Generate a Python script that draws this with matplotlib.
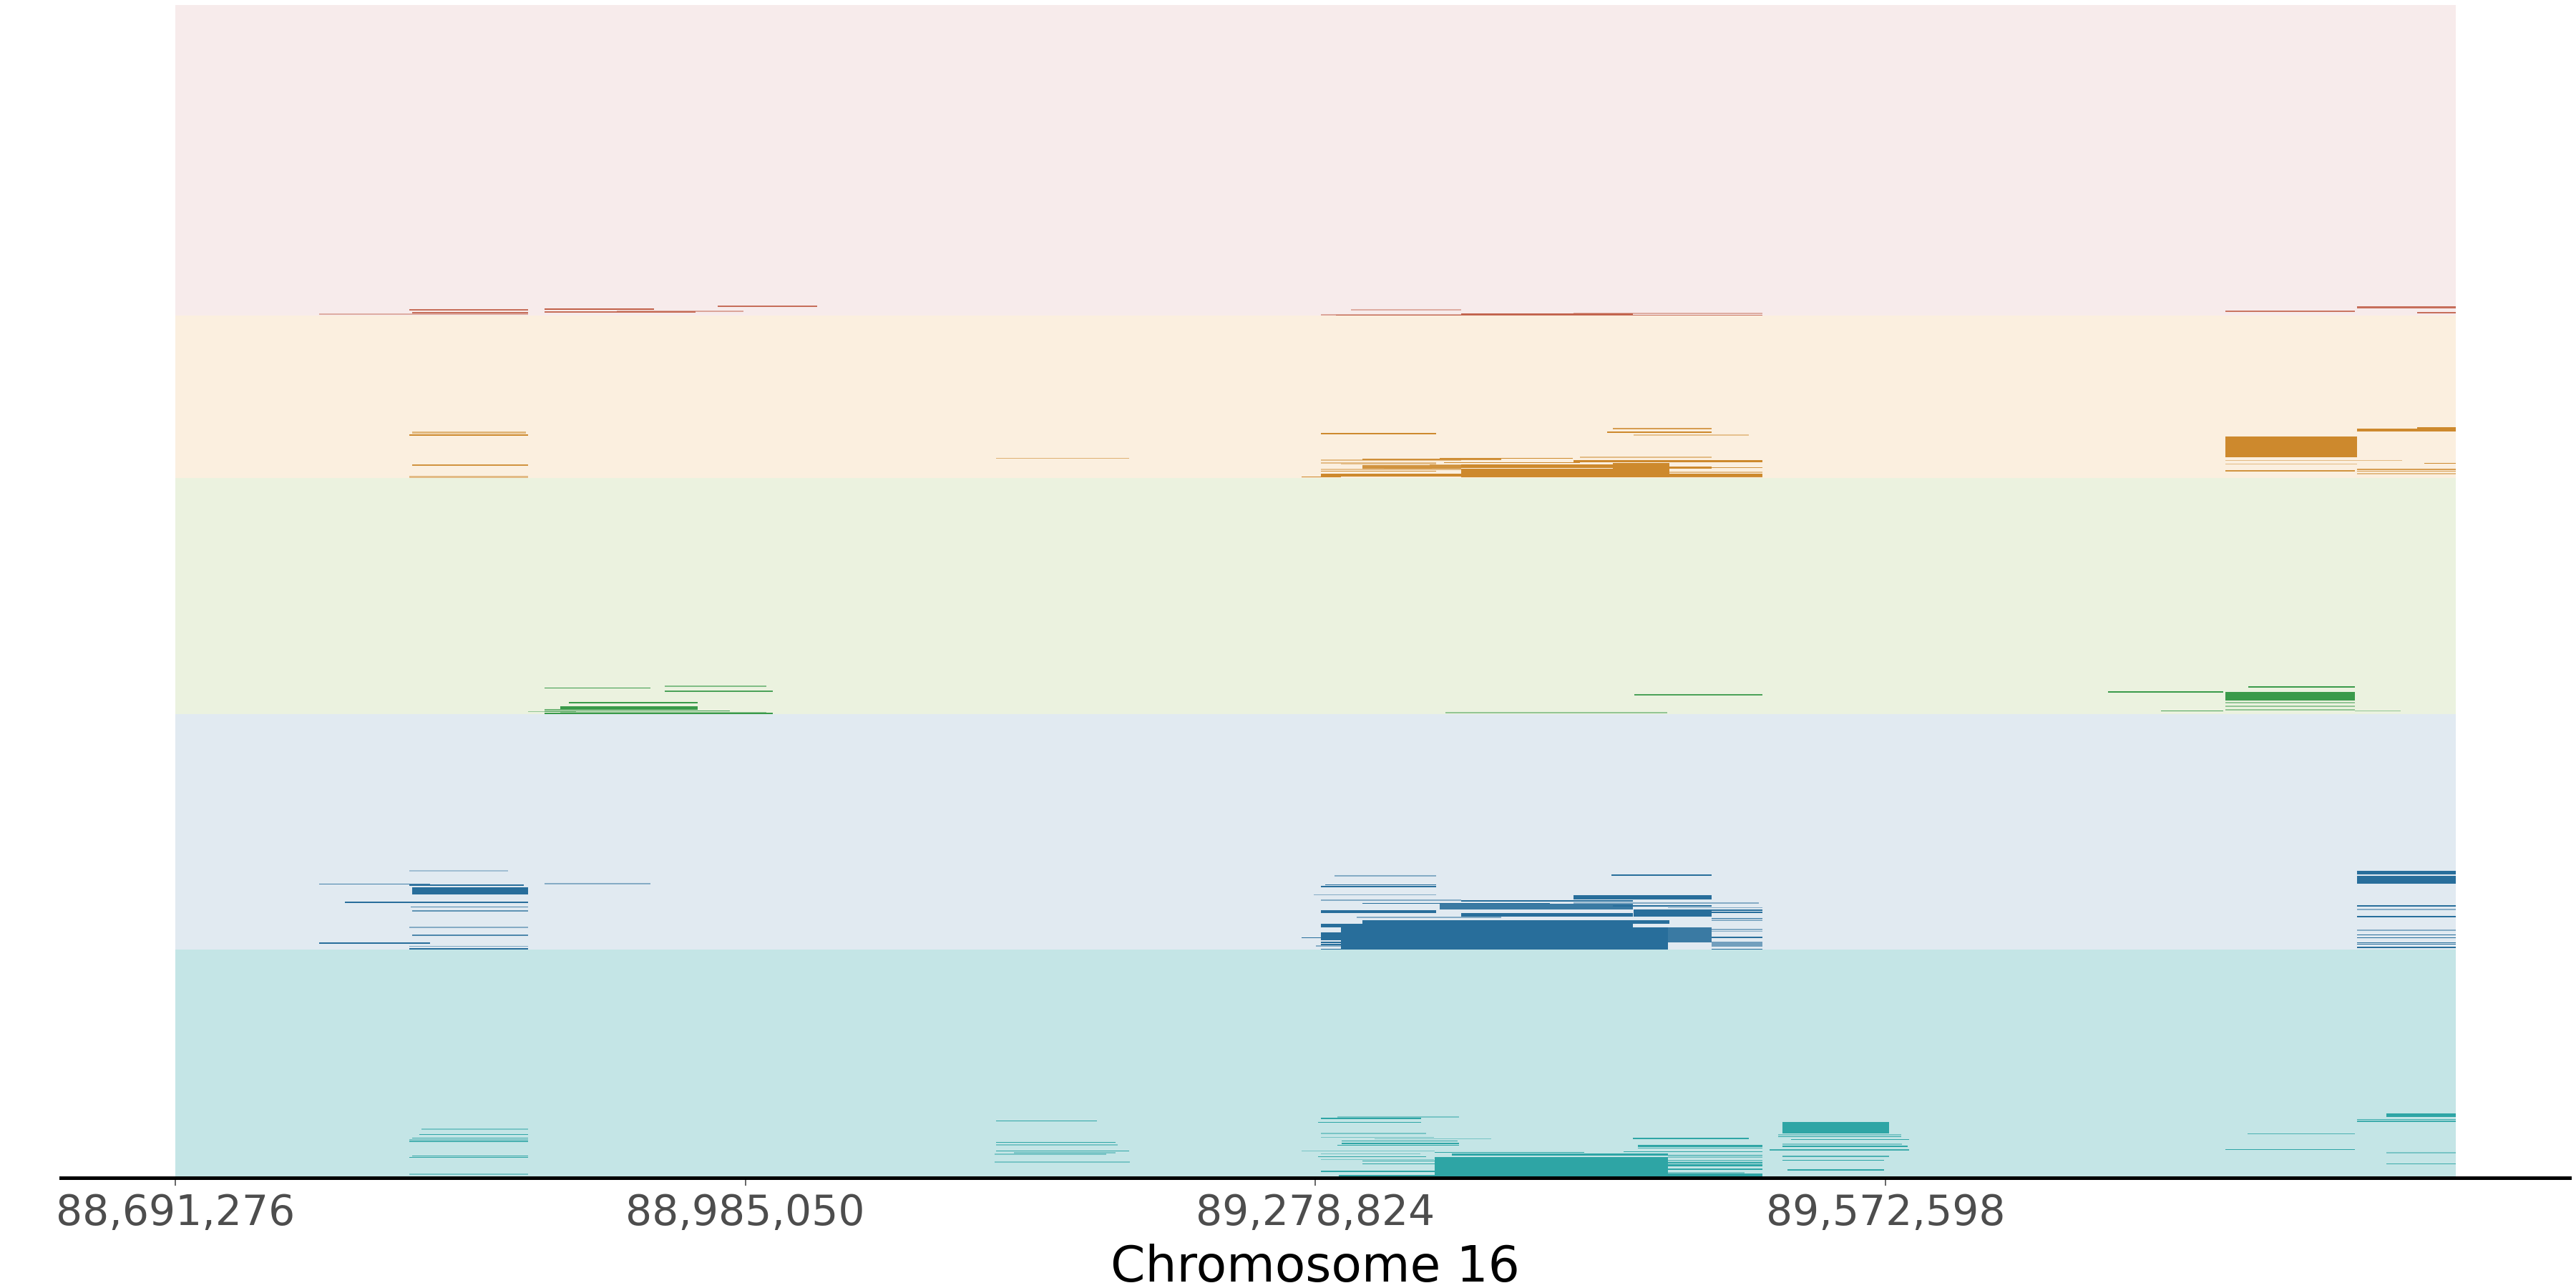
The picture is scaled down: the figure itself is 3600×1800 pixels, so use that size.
import matplotlib
matplotlib.use("Agg")
import matplotlib.pyplot as plt
from matplotlib.colors import to_rgba

# genomic window shown on the x axis (chromosome 16)
REGION_START = 88_691_276
REGION_END = 89_866_372
TICKS = [88_691_276, 88_985_050, 89_278_824, 89_572_598]

# track bands, stacked top -> bottom (row units, 0 at the top)
BAND_EDGES = [0, 434, 661, 991, 1320, 1639]
BAND_BG = ["#f7ebeb", "#fbefdf", "#ebf2df", "#e1eaf1", "#c4e5e6"]
BAND_FG = ["#c1614a", "#cd892d", "#3a9a4a", "#286e9b", "#2ea5a5"]

# segments: (start, end, row, rows, alpha)
RED = [
    (88_765_600, 88_873_000, 431.7, 2.0, 0.45),
    (88_811_800, 88_873_000, 426.0, 1.5, 0.9),
    (88_813_300, 88_873_000, 430.0, 2.5, 0.9),
    (88_881_500, 88_938_000, 425.0, 2.5, 1.0),
    (88_881_500, 88_959_400, 429.0, 1.5, 0.9),
    (88_918_800, 88_984_100, 428.0, 2.0, 0.5),
    (88_970_800, 89_022_100, 421.0, 1.5, 0.9),
    (89_297_100, 89_353_900, 425.7, 2.0, 0.45),
    (89_281_600, 89_353_900, 433.0, 1.5, 0.5),
    (89_289_300, 89_509_300, 433.5, 1.5, 0.85),
    (89_353_900, 89_442_500, 432.5, 2.0, 1.0),
    (89_411_900, 89_509_300, 431.0, 2.0, 0.45),
    (89_747_700, 89_814_500, 427.7, 2.0, 0.85),
    (89_815_600, 89_866_400, 423.0, 3.0, 0.9),
    (89_846_600, 89_866_400, 430.0, 1.5, 0.9),
]

ORANGE = [
    (88_813_300, 88_872_000, 598.0, 3.0, 0.55),
    (88_811_800, 88_873_000, 601.5, 2.0, 1.0),
    (88_813_300, 88_873_000, 643.0, 1.5, 0.9),
    (88_811_800, 88_873_000, 659.5, 2.5, 0.5),
    (89_114_400, 89_183_000, 633.6, 1.2, 0.6),
    (89_281_600, 89_341_000, 599.3, 1.5, 1.0),
    (89_432_200, 89_483_100, 592.0, 1.5, 0.8),
    (89_429_200, 89_483_100, 597.3, 1.5, 1.0),
    (89_442_900, 89_502_300, 600.7, 2.0, 0.45),
    (89_415_200, 89_483_100, 632.0, 2.0, 0.5),
    (89_342_900, 89_411_500, 633.3, 1.2, 1.0),
    (89_303_000, 89_374_600, 635.0, 1.5, 0.9),
    (89_281_600, 89_353_900, 636.0, 1.5, 0.5),
    (89_411_900, 89_509_300, 637.7, 2.5, 1.0),
    (89_345_100, 89_415_200, 639.3, 1.2, 1.0),
    (89_281_600, 89_341_000, 640.3, 1.5, 0.5),
    (89_292_000, 89_341_000, 641.7, 1.5, 0.5),
    (89_337_700, 89_461_300, 643.0, 2.0, 0.6),
    (89_353_900, 89_442_500, 644.0, 3.0, 1.0),
    (89_353_900, 89_483_100, 646.0, 2.0, 1.0),
    (89_432_200, 89_461_300, 650.0, 20.0, 1.0),
    (89_353_900, 89_461_300, 654.0, 12.0, 1.0),
    (89_314_000, 89_339_000, 647.5, 1.5, 0.9),
    (89_303_000, 89_353_900, 648.7, 2.0, 0.5),
    (89_281_600, 89_303_000, 649.0, 1.5, 0.45),
    (89_281_600, 89_341_000, 651.3, 1.2, 0.9),
    (89_303_000, 89_353_900, 645.5, 5.0, 0.9),
    (89_461_300, 89_483_100, 647.0, 1.5, 1.0),
    (89_483_100, 89_509_300, 647.0, 1.2, 0.9),
    (89_461_300, 89_509_300, 653.0, 1.5, 0.5),
    (89_461_300, 89_509_300, 656.0, 2.0, 1.0),
    (89_461_300, 89_509_300, 659.5, 2.0, 0.9),
    (89_281_600, 89_509_300, 657.0, 4.0, 1.0),
    (89_271_600, 89_292_000, 660.0, 1.2, 1.0),
    (89_815_600, 89_866_400, 594.0, 4.0, 1.0),
    (89_846_600, 89_866_400, 591.0, 1.5, 1.0),
    (89_747_700, 89_815_600, 617.5, 29.0, 1.0),
    (89_747_700, 89_838_900, 636.7, 1.5, 0.5),
    (89_747_700, 89_815_600, 641.7, 1.5, 0.5),
    (89_850_300, 89_866_400, 640.7, 1.5, 1.0),
    (89_747_700, 89_814_500, 651.0, 2.0, 0.9),
    (89_815_600, 89_866_400, 649.0, 1.5, 0.8),
    (89_815_600, 89_866_400, 651.3, 1.2, 0.8),
    (89_815_600, 89_866_400, 655.3, 1.5, 0.5),
]

GREEN = [
    (88_881_500, 88_936_100, 954.3, 1.2, 1.0),
    (88_943_500, 88_995_900, 952.3, 1.5, 0.6),
    (88_943_500, 88_999_300, 958.7, 2.0, 0.9),
    (88_894_100, 88_960_500, 975.3, 1.5, 1.0),
    (88_889_600, 88_960_500, 982.5, 5.0, 1.0),
    (88_881_500, 88_977_100, 986.3, 1.2, 1.0),
    (88_881_500, 88_897_000, 984.7, 1.5, 1.0),
    (88_873_000, 88_897_800, 987.7, 1.5, 0.5),
    (88_889_600, 88_995_900, 989.3, 2.5, 0.5),
    (88_881_500, 88_999_300, 990.0, 1.5, 1.0),
    (89_345_800, 89_460_200, 989.0, 1.5, 0.5),
    (89_443_200, 89_509_300, 964.0, 1.5, 0.9),
    (89_687_200, 89_746_600, 960.0, 1.5, 1.0),
    (89_714_500, 89_746_600, 987.0, 1.2, 0.9),
    (89_759_500, 89_814_500, 953.0, 1.5, 1.0),
    (89_747_700, 89_814_500, 966.0, 12.0, 1.0),
    (89_747_700, 89_814_500, 975.0, 1.5, 0.5),
    (89_747_700, 89_814_500, 980.0, 1.5, 0.5),
    (89_747_700, 89_814_500, 985.0, 1.5, 0.5),
    (89_814_500, 89_838_100, 987.0, 1.2, 0.5),
]

BLUE = [
    (88_811_800, 88_862_700, 1209.7, 2.0, 0.35),
    (88_765_600, 88_822_500, 1228.7, 1.5, 0.85),
    (88_811_800, 88_870_800, 1230.3, 1.5, 1.0),
    (88_881_500, 88_936_100, 1227.7, 2.0, 0.5),
    (88_813_300, 88_873_000, 1238.5, 10.0, 1.0),
    (88_778_600, 88_873_000, 1254.0, 1.2, 1.0),
    (88_812_500, 88_873_000, 1260.7, 1.5, 0.8),
    (88_813_300, 88_873_000, 1266.0, 1.5, 0.7),
    (88_811_800, 88_873_000, 1289.0, 2.0, 0.5),
    (88_813_300, 88_873_000, 1300.3, 2.0, 0.8),
    (88_765_600, 88_822_500, 1311.0, 1.2, 1.0),
    (88_811_800, 88_873_000, 1315.7, 1.5, 0.5),
    (88_811_800, 88_873_000, 1319.3, 2.5, 1.0),
    (89_288_600, 89_341_000, 1216.7, 2.0, 0.5),
    (89_431_400, 89_483_100, 1215.7, 2.0, 1.0),
    (89_283_800, 89_341_000, 1229.3, 1.2, 1.0),
    (89_281_600, 89_341_000, 1232.0, 2.0, 1.0),
    (89_277_900, 89_341_000, 1243.7, 1.5, 0.5),
    (89_411_900, 89_483_100, 1247.0, 6.5, 1.0),
    (89_281_600, 89_353_900, 1250.7, 2.0, 0.5),
    (89_353_900, 89_442_500, 1252.0, 2.0, 1.0),
    (89_303_000, 89_399_700, 1255.3, 1.2, 1.0),
    (89_411_900, 89_507_500, 1254.7, 2.0, 0.5),
    (89_342_900, 89_442_500, 1260.0, 8.0, 0.9),
    (89_432_200, 89_483_100, 1259.0, 1.5, 1.0),
    (89_460_600, 89_509_300, 1261.7, 1.5, 0.5),
    (89_281_600, 89_341_000, 1265.3, 1.2, 1.0),
    (89_281_600, 89_341_000, 1267.7, 2.5, 1.0),
    (89_442_900, 89_483_100, 1269.0, 10.0, 1.0),
    (89_483_100, 89_509_300, 1265.3, 1.5, 1.0),
    (89_483_100, 89_509_300, 1268.0, 1.5, 1.0),
    (89_353_900, 89_442_500, 1271.5, 5.0, 1.0),
    (89_300_000, 89_374_600, 1275.3, 1.5, 0.5),
    (89_483_100, 89_509_300, 1276.3, 1.2, 1.0),
    (89_483_100, 89_509_300, 1279.0, 1.5, 0.5),
    (89_303_000, 89_461_300, 1281.3, 4.7, 1.0),
    (89_281_600, 89_442_500, 1286.2, 5.0, 1.0),
    (89_291_900, 89_460_600, 1304.2, 31.0, 1.0),
    (89_460_600, 89_483_100, 1299.5, 21.0, 0.9),
    (89_483_100, 89_509_300, 1292.0, 1.5, 0.5),
    (89_483_100, 89_509_300, 1294.7, 1.5, 0.5),
    (89_483_100, 89_509_300, 1303.0, 1.5, 1.0),
    (89_483_100, 89_509_300, 1312.3, 6.7, 0.6),
    (89_483_100, 89_509_300, 1319.7, 1.5, 1.0),
    (89_281_600, 89_341_000, 1301.5, 11.7, 1.0),
    (89_271_600, 89_281_600, 1303.3, 1.2, 1.0),
    (89_279_000, 89_293_000, 1315.0, 1.5, 0.5),
    (89_281_600, 89_291_900, 1310.0, 1.2, 1.0),
    (89_281_600, 89_291_900, 1313.0, 1.2, 1.0),
    (89_281_600, 89_291_900, 1319.7, 1.2, 1.0),
    (89_815_600, 89_866_400, 1212.5, 5.0, 1.0),
    (89_815_600, 89_866_400, 1222.3, 10.7, 1.0),
    (89_815_600, 89_866_400, 1259.3, 1.8, 1.0),
    (89_815_600, 89_866_400, 1264.3, 1.5, 0.5),
    (89_815_600, 89_866_400, 1274.0, 1.2, 1.0),
    (89_815_600, 89_866_400, 1292.7, 1.8, 0.5),
    (89_815_600, 89_866_400, 1299.3, 1.2, 1.0),
    (89_815_600, 89_866_400, 1303.3, 1.2, 1.0),
    (89_815_600, 89_866_400, 1310.3, 1.2, 1.0),
    (89_815_600, 89_866_400, 1312.3, 1.2, 1.0),
    (89_815_600, 89_866_400, 1316.7, 2.2, 1.0),
]

TEAL = [
    (88_818_000, 88_873_000, 1571.0, 1.5, 0.5),
    (88_816_900, 88_873_000, 1578.3, 1.2, 1.0),
    (88_813_300, 88_873_000, 1583.3, 1.2, 0.9),
    (88_812_000, 88_873_000, 1587.0, 3.0, 0.5),
    (88_812_000, 88_873_000, 1588.7, 1.2, 1.0),
    (88_813_300, 88_873_000, 1608.3, 1.2, 1.0),
    (88_812_000, 88_873_000, 1610.3, 1.2, 1.0),
    (88_812_000, 88_873_000, 1634.0, 2.0, 0.5),
    (89_114_400, 89_166_400, 1559.7, 1.5, 1.0),
    (89_114_400, 89_175_700, 1589.3, 1.2, 1.0),
    (89_114_400, 89_177_000, 1592.7, 2.0, 0.5),
    (89_114_400, 89_183_000, 1601.3, 1.2, 1.0),
    (89_123_600, 89_175_700, 1603.7, 2.0, 0.5),
    (89_113_700, 89_170_900, 1605.7, 2.0, 0.5),
    (89_113_700, 89_183_400, 1617.0, 2.0, 0.5),
    (89_281_600, 89_333_300, 1556.0, 2.5, 1.0),
    (89_290_000, 89_352_800, 1554.3, 1.5, 0.5),
    (89_280_100, 89_333_300, 1561.3, 1.2, 1.0),
    (89_281_600, 89_336_000, 1577.0, 1.5, 0.5),
    (89_281_600, 89_340_000, 1582.7, 1.5, 0.5),
    (89_309_300, 89_369_400, 1584.7, 1.5, 0.5),
    (89_292_500, 89_352_000, 1587.3, 1.2, 1.0),
    (89_292_500, 89_353_000, 1590.7, 2.0, 1.0),
    (89_290_000, 89_352_800, 1593.3, 1.2, 1.0),
    (89_271_600, 89_340_300, 1601.7, 1.5, 0.5),
    (89_340_300, 89_417_400, 1603.3, 1.2, 1.0),
    (89_281_600, 89_333_000, 1605.7, 1.5, 0.5),
    (89_349_100, 89_460_600, 1606.5, 2.5, 1.0),
    (89_280_100, 89_336_000, 1609.7, 1.2, 1.0),
    (89_281_600, 89_340_000, 1613.3, 1.2, 0.5),
    (89_340_300, 89_460_600, 1624.3, 28.0, 1.0),
    (89_303_000, 89_340_300, 1615.3, 1.2, 1.0),
    (89_303_000, 89_340_300, 1619.7, 1.2, 1.0),
    (89_281_600, 89_340_300, 1630.0, 2.5, 1.0),
    (89_291_000, 89_340_300, 1636.5, 2.5, 1.0),
    (89_281_600, 89_291_000, 1637.7, 1.5, 0.5),
    (89_442_500, 89_502_300, 1584.0, 1.2, 1.0),
    (89_445_100, 89_509_300, 1594.7, 2.5, 1.0),
    (89_445_100, 89_509_300, 1597.7, 1.5, 0.8),
    (89_437_700, 89_509_300, 1602.3, 1.2, 1.0),
    (89_460_600, 89_509_300, 1607.7, 1.2, 1.0),
    (89_460_600, 89_509_300, 1610.0, 2.0, 0.5),
    (89_460_600, 89_509_300, 1615.0, 1.5, 0.5),
    (89_460_600, 89_509_300, 1618.0, 2.0, 1.0),
    (89_460_600, 89_509_300, 1621.5, 3.0, 1.0),
    (89_460_600, 89_509_300, 1626.7, 2.0, 1.0),
    (89_460_600, 89_500_000, 1632.0, 2.0, 0.5),
    (89_460_600, 89_509_300, 1634.7, 4.0, 1.0),
    (89_460_600, 89_509_300, 1638.0, 1.2, 1.0),
    (89_519_600, 89_574_300, 1569.2, 15.7, 1.0),
    (89_517_400, 89_580_900, 1579.0, 1.5, 0.5),
    (89_517_400, 89_580_900, 1581.7, 1.5, 1.0),
    (89_524_100, 89_584_600, 1585.7, 1.2, 1.0),
    (89_519_600, 89_581_000, 1592.0, 1.5, 0.5),
    (89_519_600, 89_584_000, 1595.3, 2.0, 1.0),
    (89_513_000, 89_584_600, 1600.0, 1.5, 0.9),
    (89_519_600, 89_574_300, 1608.7, 2.0, 0.8),
    (89_519_600, 89_572_000, 1614.3, 1.2, 1.0),
    (89_522_000, 89_572_000, 1628.0, 2.5, 1.0),
    (89_519_600, 89_574_300, 1638.3, 1.5, 1.0),
    (89_830_700, 89_866_400, 1551.2, 5.0, 1.0),
    (89_815_600, 89_866_400, 1557.7, 1.5, 0.9),
    (89_815_600, 89_866_400, 1560.3, 1.5, 0.9),
    (89_759_200, 89_814_500, 1577.7, 1.5, 0.8),
    (89_747_700, 89_814_500, 1599.3, 1.2, 1.0),
    (89_830_700, 89_866_400, 1603.7, 2.0, 0.5),
    (89_830_700, 89_866_400, 1619.3, 1.2, 0.9),
    (89_815_600, 89_866_400, 1638.3, 1.5, 1.0),
]

BAND_SEGMENTS = [RED, ORANGE, GREEN, BLUE, TEAL]

fig = plt.figure(figsize=(18, 9), dpi=200)
ax = fig.add_axes([0.02375, 0.0856, 0.97375, 0.9106])

# band backgrounds
for top, bot, bg in zip(BAND_EDGES[:-1], BAND_EDGES[1:], BAND_BG):
    ax.barh((top + bot) / 2, REGION_END - REGION_START, left=REGION_START,
            height=bot - top, color=bg, lw=0, zorder=1)

# segments
for segs, fg in zip(BAND_SEGMENTS, BAND_FG):
    starts = [s[0] for s in segs]
    widths = [s[1] - s[0] for s in segs]
    rows = [s[2] for s in segs]
    heights = [s[3] for s in segs]
    colors = [to_rgba(fg, s[4]) for s in segs]
    ax.barh(rows, widths, left=starts, height=heights, color=colors, lw=0, zorder=2)

span = REGION_END - REGION_START
ax.set_xlim(REGION_START - 0.05 * span, REGION_END + 0.05 * span)
ax.set_ylim(BAND_EDGES[-1], BAND_EDGES[0])

for side in ("top", "left", "right"):
    ax.spines[side].set_visible(False)
ax.spines["bottom"].set_color("black")
ax.spines["bottom"].set_linewidth(1.8)
ax.spines["bottom"].set_zorder(3)

ax.set_yticks([])
ax.set_xticks(TICKS)
ax.set_xticklabels([f"{t:,}" for t in TICKS])
ax.tick_params(axis="x", length=4, width=0.6, color="#4d4d4d",
               labelcolor="#4d4d4d", labelsize=21, pad=3.5)
ax.set_xlabel("Chromosome 16", fontsize=25, color="black", labelpad=5)

fig.savefig("out.png", dpi=200)
